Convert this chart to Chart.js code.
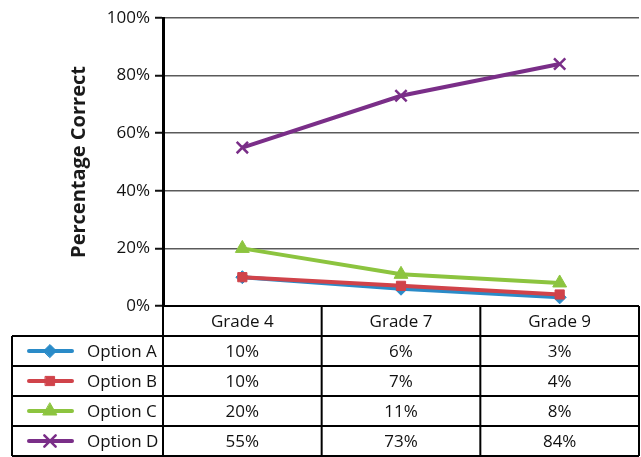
<!DOCTYPE html>
<html>
<head>
<meta charset="utf-8">
<script src="https://cdn.jsdelivr.net/npm/chart.js@4/dist/chart.umd.min.js"></script>
<style>
  html, body { margin: 0; padding: 0; background: #fff; }
  #wrap { width: 641px; height: 457px; }
</style>
</head>
<body>
<div id="wrap"><canvas id="chart" width="641" height="457"></canvas></div>
<script>
// data
const grades = ['Grade 4', 'Grade 7', 'Grade 9'];
const optionNames = ['Option A', 'Option B', 'Option C', 'Option D'];
const optionA = [10, 6, 3];
const optionB = [10, 7, 4];
const optionC = [20, 11, 8];
const optionD = [55, 73, 84];
const yTicks = [0, 20, 40, 60, 80, 100];

const colors = ['#2a8bc8', '#d0434a', '#8cc43f', '#7a2e88'];
const markers = ['rectRot', 'rect', 'triangle', 'crossRot'];
const FONT = '"Open Sans", Lato, sans-serif';

function ds(i, values, radius){
  return {
    label: optionNames[i],
    data: values,
    borderColor: colors[i],
    backgroundColor: colors[i],
    pointBackgroundColor: colors[i],
    pointBorderColor: colors[i],
    pointStyle: markers[i],
    pointRadius: radius,
    pointBorderWidth: markers[i] === 'crossRot' ? 2.5 : 1,
    borderWidth: 4,
    tension: 0,
    order: 4 - i
  };
}

// data table under the plot, columns follow the x scale
const tablePlugin = {
  id: 'dataTable',
  afterDraw(chart){
    const c = chart.ctx, area = chart.chartArea, x = chart.scales.x;
    const rows = [optionA, optionB, optionC, optionD];
    const rowH = 30, top = area.bottom, legendLeft = 12;
    const cols = [area.left];
    for(let i = 0; i < grades.length - 1; i++){
      cols.push((x.getPixelForValue(i) + x.getPixelForValue(i + 1)) / 2);
    }
    cols.push(area.right);
    const bottom = top + rowH * (rows.length + 1);

    c.save();
    c.strokeStyle = '#000';
    c.lineWidth = 2;
    c.beginPath();
    c.moveTo(area.left, top); c.lineTo(area.right, top);
    for(let r = 1; r <= rows.length + 1; r++){
      const y = top + r * rowH;
      c.moveTo(legendLeft, y);
      c.lineTo(area.right, y);
    }
    cols.forEach(cx => { c.moveTo(cx, top); c.lineTo(cx, bottom); });
    c.moveTo(legendLeft, top + rowH); c.lineTo(legendLeft, bottom);
    c.stroke();

    c.fillStyle = '#111';
    c.font = '17px ' + FONT;
    c.textAlign = 'center';
    c.textBaseline = 'middle';
    grades.forEach((g, i) => c.fillText(g, x.getPixelForValue(i), top + rowH / 2 + 1));
    rows.forEach((vals, r) => {
      const cy = top + (r + 1) * rowH + rowH / 2 + 1;
      vals.forEach((v, i) => c.fillText(v + '%', x.getPixelForValue(i), cy));
    });

    // legend keys
    rows.forEach((vals, r) => {
      const cy = top + (r + 1) * rowH + rowH / 2;
      const opts = chart.getDatasetMeta(r).data[0].options;
      c.strokeStyle = colors[r];
      c.fillStyle = colors[r];
      c.lineWidth = 4;
      c.lineCap = 'round';
      c.beginPath(); c.moveTo(29, cy); c.lineTo(72, cy); c.stroke();
      c.lineWidth = opts.borderWidth;
      if(Chart.helpers && Chart.helpers.drawPoint){
        Chart.helpers.drawPoint(c, {
          pointStyle: opts.pointStyle, radius: opts.radius, rotation: 0,
          borderWidth: opts.borderWidth
        }, 50, cy);
      }
      c.fillStyle = '#111';
      c.textAlign = 'left';
      c.fillText(optionNames[r], 87, cy + 1);
    });
    c.restore();
  }
};

new Chart(document.getElementById('chart'), {
  type: 'line',
  data: {
    labels: grades,
    datasets: [
      ds(0, optionA, 6.5),
      ds(1, optionB, 6.5),
      ds(2, optionC, 8),
      ds(3, optionD, 8)
    ]
  },
  options: {
    responsive: false,
    animation: false,
    layout: { autoPadding: false, padding: { left: 0, top: 18, right: 2, bottom: 151 } },
    plugins: { legend: { display: false }, tooltip: { enabled: false } },
    scales: {
      x: { type: 'category', display: false, offset: true },
      y: {
        min: 0, max: 100,
        afterBuildTicks: (scale) => { scale.ticks = yTicks.map(v => ({ value: v })); },
        afterFit: (scale) => { scale.width = 163; },
        ticks: {
          color: '#111',
          padding: 5,
          font: { family: FONT, size: 17 },
          callback: (v) => v + '%'
        },
        grid: {
          color: '#5a5a5a',
          lineWidth: 1.5,
          tickLength: 8,
          tickColor: '#111',
          tickWidth: 2
        },
        border: { display: true, color: '#000', width: 3 },
        title: {
          display: true,
          text: 'Percentage Correct',
          color: '#1a1a1a',
          font: { family: FONT, size: 20, weight: 'bold' },
          padding: { top: 67, bottom: 0 }
        }
      }
    }
  },
  plugins: [tablePlugin]
});
</script>
</body>
</html>
